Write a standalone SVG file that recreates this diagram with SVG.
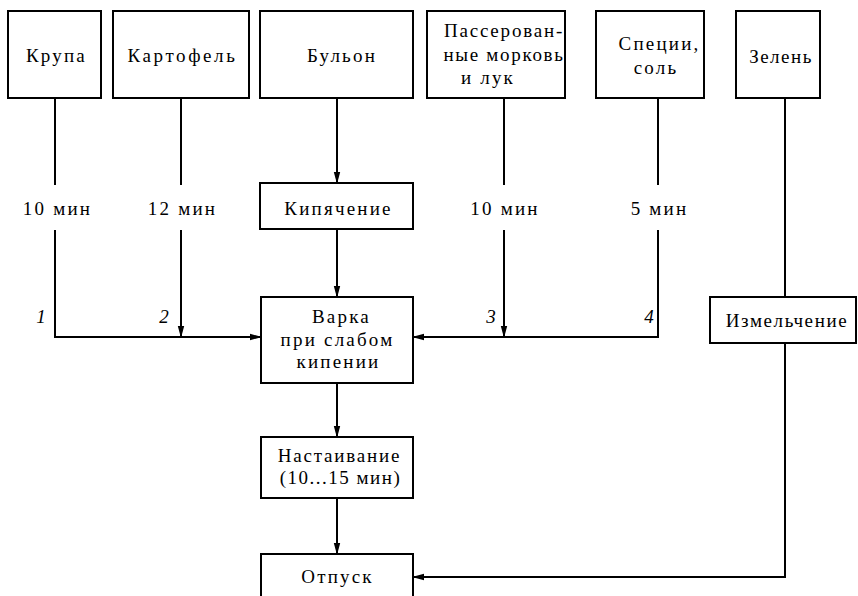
<svg xmlns="http://www.w3.org/2000/svg" width="858" height="596" viewBox="0 0 858 596">
<style>
.box{fill:#fff;stroke:#000;stroke-width:2}
.c{fill:none;stroke:#000;stroke-width:2}
.ca{fill:none;stroke:#000;stroke-width:2;marker-end:url(#ah)}
text{font-family:"Liberation Serif","Times New Roman",serif;font-size:19px;fill:#000;text-anchor:middle;letter-spacing:2.2px}
</style>
<defs>
<marker id="ah" markerWidth="12" markerHeight="8" refX="11" refY="4" orient="auto" markerUnits="userSpaceOnUse">
<path d="M0,0.8 L12,4 L0,7.2 Z" fill="#000"/>
</marker>
</defs>
<rect width="858" height="596" fill="#fff"/>
<g id="connectors">
<path class="c" d="M55,98 V185"/>
<path class="ca" d="M55,230 V337 H261"/>
<path class="c" d="M181,98 V185"/>
<path class="ca" d="M181,230 V337"/>
<path class="ca" d="M337,98 V183"/>
<path class="ca" d="M337,229 V297"/>
<path class="c" d="M504,98 V185"/>
<path class="ca" d="M504,230 V337"/>
<path class="c" d="M658,98 V185"/>
<path class="ca" d="M658,230 V337 H413"/>
<path class="c" d="M785,98 V297"/>
<path class="ca" d="M785,343 V577 H413"/>
<path class="ca" d="M337,383 V437"/>
<path class="ca" d="M337,498 V554"/>
</g>
<g id="labels">
<text x="57.5" y="215" font-family="Liberation Serif">10 мин</text>
<text x="182.5" y="215" font-family="Liberation Serif">12 мин</text>
<text x="505" y="215" font-family="Liberation Serif">10 мин</text>
<text x="659.5" y="215" font-family="Liberation Serif">5 мин</text>
<text x="41" y="323" font-family="Liberation Serif" font-style="italic" style="letter-spacing:0">1</text>
<text x="164" y="323" font-family="Liberation Serif" font-style="italic" style="letter-spacing:0">2</text>
<text x="491" y="323" font-family="Liberation Serif" font-style="italic" style="letter-spacing:0">3</text>
<text x="649" y="323" font-family="Liberation Serif" font-style="italic" style="letter-spacing:0">4</text>
</g>
<g id="krupa">
<rect class="box" x="8" y="11" width="93" height="87"/>
<text x="56.5" y="62" font-family="Liberation Serif">Крупа</text>
</g>
<g id="kartofel">
<rect class="box" x="113" y="11" width="136" height="87"/>
<text x="182.5" y="62" font-family="Liberation Serif" style="letter-spacing:2.6px">Картофель</text>
</g>
<g id="bulon">
<rect class="box" x="260" y="11" width="153" height="87"/>
<text x="342" y="62" font-family="Liberation Serif">Бульон</text>
</g>
<g id="passer">
<rect class="box" x="427" y="11" width="138" height="87"/>
<text x="504" y="37" font-family="Liberation Serif" style="letter-spacing:1.8px">Пассерован-</text>
<text x="504" y="61" font-family="Liberation Serif" style="letter-spacing:1.7px">ные морковь</text>
<text x="488" y="84" font-family="Liberation Serif">и лук</text>
</g>
<g id="specii">
<rect class="box" x="596" y="11" width="108" height="87"/>
<text x="659.5" y="50" font-family="Liberation Serif">Специи,</text>
<text x="656" y="74" font-family="Liberation Serif">соль</text>
</g>
<g id="zelen">
<rect class="box" x="736" y="11" width="84" height="87"/>
<text x="781" y="63" font-family="Liberation Serif" style="letter-spacing:1.5px">Зелень</text>
</g>
<g id="kipyachenie">
<rect class="box" x="260" y="183" width="153" height="46"/>
<text x="338.5" y="215" font-family="Liberation Serif">Кипячение</text>
</g>
<g id="varka">
<rect class="box" x="261" y="297" width="152" height="86"/>
<text x="341.5" y="323" font-family="Liberation Serif">Варка</text>
<text x="337.5" y="346" font-family="Liberation Serif">при слабом</text>
<text x="338.5" y="368" font-family="Liberation Serif">кипении</text>
</g>
<g id="izmelchenie">
<rect class="box" x="710" y="297" width="146" height="46"/>
<text x="787" y="327" font-family="Liberation Serif" style="letter-spacing:1.6px">Измельчение</text>
</g>
<g id="nastaivanie">
<rect class="box" x="261" y="437" width="152" height="61"/>
<text x="339.5" y="462" font-family="Liberation Serif" style="letter-spacing:1.8px">Настаивание</text>
<text x="340.5" y="484" font-family="Liberation Serif" style="letter-spacing:1.5px">(10...15 мин)</text>
</g>
<g id="otpusk">
<rect class="box" x="261" y="554" width="152" height="50"/>
<text x="337.5" y="583" font-family="Liberation Serif">Отпуск</text>
</g>
</svg>
